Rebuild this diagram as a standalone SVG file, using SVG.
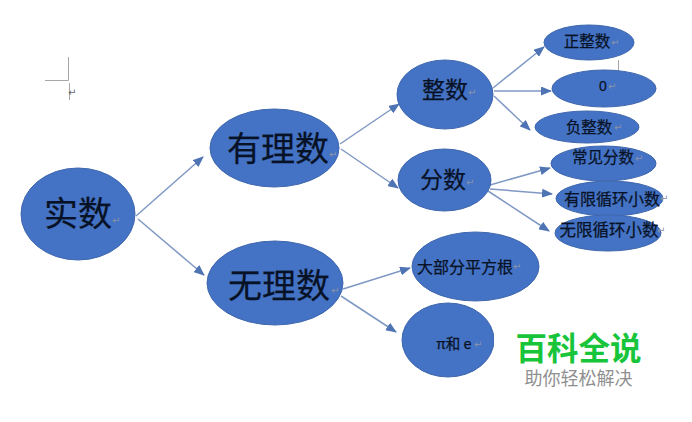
<svg xmlns="http://www.w3.org/2000/svg" width="692" height="422" viewBox="0 0 692 422">
<style>
.n{fill:#4472c4;stroke:#3f67ad;stroke-width:1}
.t{font-family:"Noto Sans CJK SC","Liberation Sans",sans-serif;fill:#081226;stroke:#081226;stroke-width:.25;text-anchor:middle}
.r{font-family:"DejaVu Sans",sans-serif;fill:#8a94a8;font-size:10px}
.c{stroke:#7f98c4;stroke-width:1.5;fill:none;marker-end:url(#a)}
.g{stroke:#a6a6a6;stroke-width:1;fill:none}
</style>
<defs>
<marker id="a" markerUnits="userSpaceOnUse" markerWidth="11" markerHeight="9" refX="10" refY="4.500" orient="auto"><path d="M0 0L11 4.500L0 9Z" fill="#4f74b4"/></marker>
</defs>
<rect width="692" height="422" fill="#fff"/>
<g id="crop-mark">
<path class="g" d="M45 80.500H68.500V57M69.500 83V100"/>
<text class="r" x="68" y="96" style="fill:#666">↵</text>
</g>
<g id="connectors">
<path class="c" d="M136 216L203 157"/>
<path class="c" d="M138 219L204 275"/>
<path class="c" d="M340 144L399 104"/>
<path class="c" d="M341 149L398 188"/>
<path class="c" d="M343 289L410 268"/>
<path class="c" d="M341 296L396 332"/>
<path class="c" d="M493 88L544 47"/>
<path class="c" d="M494 91L551 91"/>
<path class="c" d="M494 96L530 130"/>
<path class="c" d="M490 185L550 168"/>
<path class="c" d="M490 189L552 194"/>
<path class="c" d="M488 191L549 231"/>
<path class="g" d="M618.500 60V71"/>
</g>
<g id="shi-shu"><ellipse class="n" cx="78" cy="214" rx="57" ry="46"/><text class="t" x="78" y="226" font-size="34">实数</text><text class="r" x="112" y="224">↵</text></g>
<g id="you-li-shu"><ellipse class="n" cx="274.500" cy="148" rx="64.500" ry="39"/><text class="t" x="278" y="161" font-size="34">有理数</text><text class="r" x="329" y="158">↵</text></g>
<g id="wu-li-shu"><ellipse class="n" cx="275" cy="283" rx="68" ry="42"/><text class="t" x="279" y="298" font-size="34">无理数</text><text class="r" x="331" y="294">↵</text></g>
<g id="zheng-shu"><ellipse class="n" cx="445" cy="94.500" rx="48" ry="34.500"/><text class="t" x="445" y="98" font-size="23">整数</text><text class="r" x="468" y="96">↵</text></g>
<g id="fen-shu"><ellipse class="n" cx="444.500" cy="180" rx="46.500" ry="31"/><text class="t" x="443" y="188" font-size="23">分数</text><text class="r" x="466" y="186">↵</text></g>
<g id="zheng-zheng-shu"><ellipse class="n" cx="589" cy="42.500" rx="45" ry="17.500"/><text class="t" x="587" y="47" font-size="15.500">正整数</text><text class="r" x="611" y="46">↵</text></g>
<g id="zero"><ellipse class="n" cx="604" cy="88.500" rx="52" ry="18.500"/><text class="t" x="603" y="91" font-size="14" style="font-family:'Liberation Sans',sans-serif">0</text><text class="r" x="608" y="90">↵</text></g>
<g id="fu-zheng-shu"><ellipse class="n" cx="587" cy="127" rx="52" ry="16"/><text class="t" x="589" y="133" font-size="15.500">负整数</text><text class="r" x="614" y="131">↵</text></g>
<g id="chang-jian-fen-shu"><ellipse class="n" cx="603.500" cy="163.500" rx="52.500" ry="17.500"/><text class="t" x="603" y="163" font-size="15.500">常见分数</text><text class="r" x="635" y="162">↵</text></g>
<g id="you-xian"><ellipse class="n" cx="609.500" cy="198.500" rx="53.500" ry="17.500"/><text class="t" x="612" y="205" font-size="16">有限循环小数</text><text class="r" x="660" y="202">↵</text></g>
<g id="wu-xian"><ellipse class="n" cx="608" cy="233" rx="53" ry="18"/><text class="t" x="609" y="236" font-size="16.500">无限循环小数</text><text class="r" x="657" y="234">↵</text></g>
<g id="da-bu-fen"><ellipse class="n" cx="475.500" cy="266.500" rx="63.500" ry="34.500"/><text class="t" x="465" y="273" font-size="16">大部分平方根</text><text class="r" x="513" y="270">↵</text></g>
<g id="pi-e"><ellipse class="n" cx="448" cy="340" rx="46" ry="37"/><text class="t" x="454" y="349" font-size="14.500">π和 e</text><text class="r" x="474" y="348">↵</text></g>
<g id="watermark">
<rect x="494" y="322" width="178" height="76" fill="#fff"/>
<text x="578.500" y="360" font-size="31.500" font-weight="700" text-anchor="middle" style="font-family:'Noto Sans CJK SC',sans-serif" fill="#18c53a">百科全说</text>
<text x="578.500" y="385" font-size="18" text-anchor="middle" style="font-family:'Noto Sans CJK SC',sans-serif" fill="#8f8f8f">助你轻松解决</text>
</g>
</svg>
